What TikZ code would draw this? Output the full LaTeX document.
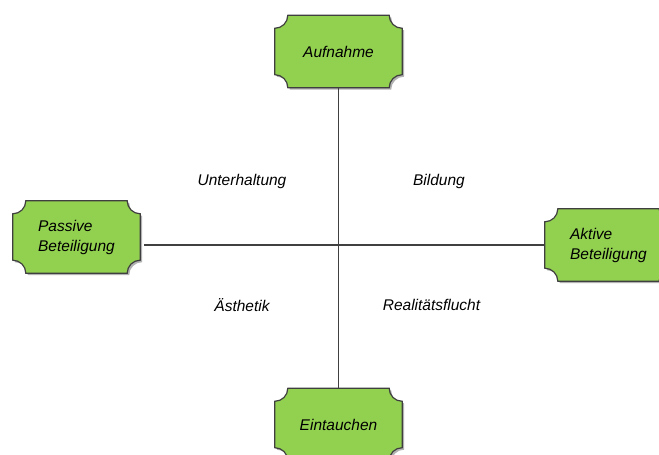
\documentclass[tikz,border=0pt]{standalone}
\usepackage{fontspec}
\setmainfont{Liberation Sans}
\usetikzlibrary{backgrounds}
\definecolor{boxgreen}{HTML}{92D050}
\definecolor{boxline}{HTML}{3F3F3F}
\definecolor{axisline}{HTML}{404040}
\tikzset{
  box/.style={rectangle, minimum width=127pt, minimum height=72pt, inner sep=0pt,
    font=\fontsize{15.5}{20}\selectfont\itshape, align=left},
  lbl/.style={font=\fontsize{15.5}{20}\selectfont\itshape, inner sep=0pt},
  axis/.style={draw=axisline, line width=1.2pt},
}
\newcommand\cframe[2][]{%
  \path[#1] ([xshift=13pt]#2.north west) -- ([xshift=-13pt]#2.north east)
    arc[start angle=180,end angle=270,radius=13pt]
    -- ([yshift=13pt]#2.south east)
    arc[start angle=90,end angle=180,radius=13pt]
    -- ([xshift=13pt]#2.south west)
    arc[start angle=0,end angle=90,radius=13pt]
    -- ([yshift=-13pt]#2.north west)
    arc[start angle=270,end angle=360,radius=13pt] -- cycle;}
\begin{document}
\begin{tikzpicture}[x=1pt,y=1pt]
\useasboundingbox (0,0) rectangle (659,455);
\clip (0,0) rectangle (659,455);
\node[box] (auf) at (338.5,403.5) {Aufnahme};
\node[box] (pas) at (76.5,218) {Passive\\Beteiligung};
\node[box] (akt) at (608.5,210) {Aktive\\Beteiligung};
\node[box] (ein) at (338.5,30.5) {Eintauchen};
\begin{scope}[on background layer]
  \foreach \n in {auf,pas,akt,ein}{
    \begin{scope}[transform canvas={shift={(2pt,-2pt)}}]
      \cframe[fill=black!30]{\n}
    \end{scope}
    \cframe[fill=boxgreen, draw=boxline, line width=1.2pt]{\n}
  }
\end{scope}
\draw[axis] (auf.south) -- (ein.north);
\draw[axis] ([xshift=4pt]pas.east |- akt.west) -- (akt.west);
\node[lbl] (unt) at (242,273.5) {Unterhaltung};
\node[lbl] (bil) at (439,274) {Bildung};
\node[lbl] (aes) at (242,149.5) {Ästhetik};
\node[lbl] (rea) at (431.5,150) {Realitätsflucht};
\end{tikzpicture}
\end{document}
